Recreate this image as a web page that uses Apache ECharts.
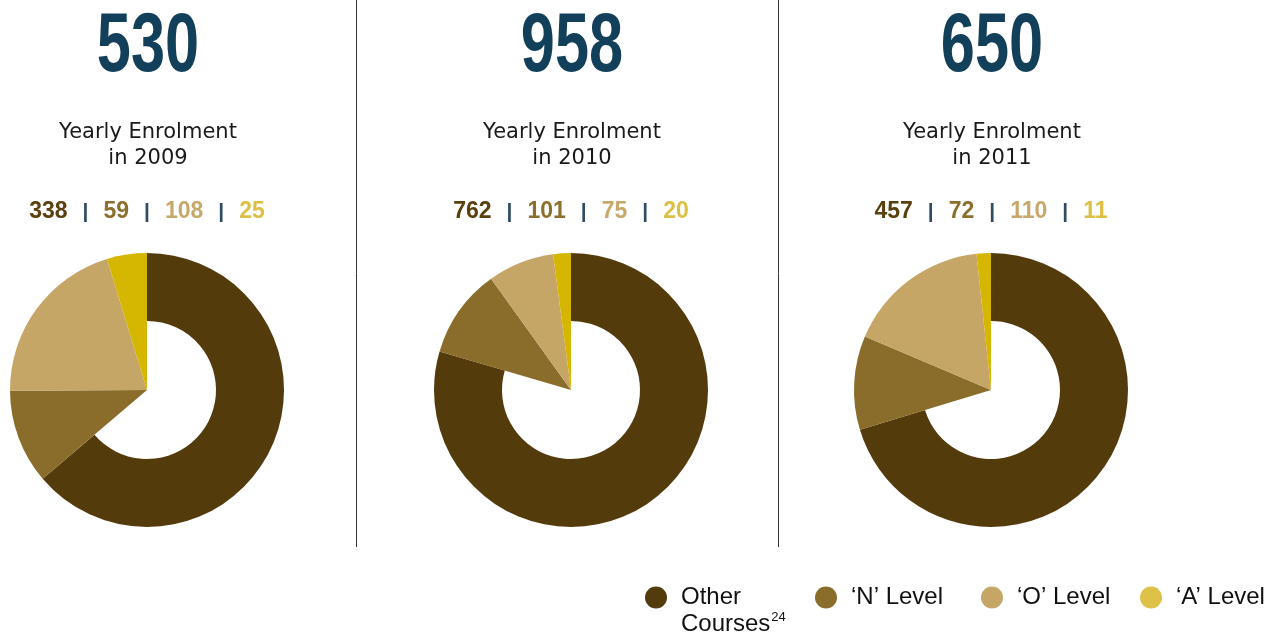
<!DOCTYPE html>
<html>
<head>
<meta charset="utf-8">
<script src="https://cdn.jsdelivr.net/npm/echarts@6/dist/echarts.min.js"></script>
<style>
  html, body { margin: 0; padding: 0; background: #ffffff; }
  #chart { width: 1284px; height: 635px; }
</style>
</head>
<body>
<div id="chart"></div>
<script>
// Yearly enrolment by course type, 2009–2011
const years = ['2009', '2010', '2011'];
const categories = ['Other Courses', '\u2018N\u2019 Level', '\u2018O\u2019 Level', '\u2018A\u2019 Level'];
const otherCourses = [338, 762, 457];
const nLevel = [59, 101, 72];
const oLevel = [108, 75, 110];
const aLevel = [25, 20, 11];

// styling
const sliceColors = ['#533b0c', '#8a6d2b', '#c6a666', '#d5b600'];
const textColors = ['#5a400d', '#8d6f2d', '#c8a86a', '#dcc046'];
const legendColors = ['#533b0c', '#8a6d2b', '#c6a666', '#dec247'];
const navy = '#123f5a';
const sepColor = '#2e4c66';
const centersX = [147, 571, 991];
const centerY = 390;
const outerR = 137;
const innerR = 69;
const transparent = 'rgba(0,0,0,0)';

const chart = echarts.init(document.getElementById('chart'), null, { renderer: 'canvas' });

const series = [];
const graphics = [];

years.forEach((year, i) => {
  const values = [otherCourses[i], nLevel[i], oLevel[i], aLevel[i]];
  const total = values.reduce((a, b) => a + b, 0);
  const base = {
    type: 'pie',
    center: [centersX[i], centerY],
    startAngle: 90,
    clockwise: true,
    avoidLabelOverlap: false,
    silent: true,
    animation: false,
    label: { show: false },
    labelLine: { show: false },
    itemStyle: { borderWidth: 0 }
  };
  // ring part: the "Other Courses" slice keeps its hole
  series.push(Object.assign({}, base, {
    radius: [innerR, outerR],
    data: values.map((v, k) => ({
      name: categories[k],
      value: v,
      itemStyle: { color: k === 0 ? sliceColors[0] : transparent }
    }))
  }));
  // solid wedges running to the centre for the remaining categories
  series.push(Object.assign({}, base, {
    radius: [0, outerR],
    data: values.map((v, k) => ({
      name: categories[k],
      value: v,
      itemStyle: { color: k === 0 ? transparent : sliceColors[k] }
    }))
  }));

  // big total, squeezed horizontally
  graphics.push({
    type: 'text',
    x: centersX[i] + 1,
    y: 48,
    scaleX: 0.73,
    silent: true,
    style: {
      text: String(total),
      fill: navy,
      font: 'bold 84px "Liberation Sans", sans-serif',
      align: 'center',
      verticalAlign: 'middle'
    }
  });
  // caption
  graphics.push({
    type: 'text',
    x: centersX[i] + 1,
    y: 146,
    silent: true,
    style: {
      text: 'Yearly Enrolment\nin ' + year,
      fill: '#1a1a1a',
      font: '21px "DejaVu Sans", sans-serif',
      lineHeight: 26,
      align: 'center',
      verticalAlign: 'middle'
    }
  });
  // breakdown row
  const rich = { s: { fill: sepColor, fontSize: 21, fontWeight: 'bold', fontFamily: 'Liberation Sans', padding: [0, 15, 0, 15] } };
  values.forEach((v, k) => {
    rich['c' + k] = { fill: textColors[k], fontSize: 23, fontWeight: 'bold', fontFamily: 'Liberation Sans' };
  });
  graphics.push({
    type: 'text',
    x: centersX[i],
    y: 212,
    silent: true,
    style: {
      text: values.map((v, k) => '{c' + k + '|' + v + '}').join('{s||}'),
      rich: rich,
      align: 'center',
      verticalAlign: 'middle'
    }
  });
});

// column dividers
[356.5, 778.5].forEach(x => {
  graphics.push({
    type: 'line',
    silent: true,
    shape: { x1: x, y1: 0, x2: x, y2: 547 },
    style: { stroke: '#333333', lineWidth: 1 }
  });
});

// one legend per entry so each sits at its own spot
const legendLeft = [640, 810, 976, 1135];
const legends = categories.map((name, k) => ({
  show: true,
  left: legendLeft[k],
  top: k === 0 ? 552 : 579,
  icon: 'circle',
  itemWidth: 22,
  itemHeight: 22,
  selectedMode: false,
  data: [{ name: name, itemStyle: { color: legendColors[k] } }],
  formatter: k === 0 ? 'Other\nCourses{sup|24}' : '{name}',
  textStyle: {
    color: '#111111',
    fontSize: 24,
    fontFamily: 'Liberation Sans',
    lineHeight: 27,
    padding: k === 0 ? [27, 0, 0, 9] : [0, 0, 0, 9],
    rich: {
      sup: { fontSize: 13, fontFamily: 'Liberation Sans', color: '#111111', verticalAlign: 'top', lineHeight: 27, padding: [0, 0, 12, 1] }
    }
  }
}));

chart.setOption({
  backgroundColor: '#ffffff',
  animation: false,
  legend: legends,
  series: series,
  graphic: { elements: graphics }
});
</script>
</body>
</html>
